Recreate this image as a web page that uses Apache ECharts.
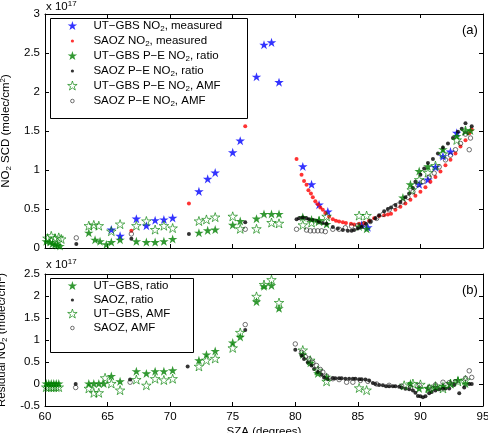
<!DOCTYPE html>
<html>
<head>
<meta charset="utf-8">
<script src="https://cdn.jsdelivr.net/npm/echarts@6/dist/echarts.min.js"></script>
<style>
  html, body { margin: 0; padding: 0; background: #fff; }
  #chart { width: 488px; height: 433px; }
</style>
</head>
<body>
<div id="chart"></div>
<script>
// x = SZA (degrees), y = NO2 in units of 1e17 molec/cm2
const xTicks = [60, 65, 70, 75, 80, 85, 90, 95]

// panel (a)
const utgbsMeas = [[65.3,0.23],[66.0,0.15],[67.3,0.37],[68.1,0.28],[68.8,0.35],[69.5,0.36],[70.2,0.38],[72.3,0.72],[73.0,0.88],[73.6,0.96],[75.0,1.22],[75.6,1.37],[76.9,2.19],[77.5,2.60],[78.1,2.63],[78.7,2.12],[80.6,1.04],[81.3,0.81],[81.9,0.55],[82.6,0.46],[85.3,0.29],[85.8,0.26],[89.9,0.81],[90.6,0.87],[91.2,1.03],[91.8,1.17],[92.4,1.23],[92.9,1.47]]
const saozMeas = [[66.9,0.22],[71.5,0.57],[76.0,1.56],[80.1,1.14],[80.5,0.94],[80.7,0.86],[80.9,0.81],[81.05,0.74],[81.25,0.70],[81.4,0.65],[81.6,0.60],[81.8,0.56],[82.0,0.52],[82.2,0.49],[82.4,0.45],[82.7,0.40],[83.0,0.37],[83.25,0.35],[83.5,0.34],[83.8,0.33],[84.05,0.32],[84.45,0.31],[84.7,0.30],[85.1,0.31],[85.5,0.32],[85.9,0.35],[86.3,0.38],[86.7,0.41],[87.1,0.42],[87.4,0.43],[87.65,0.44],[88.0,0.49],[88.4,0.53],[88.8,0.57],[89.2,0.62],[89.6,0.67],[90.0,0.72],[90.4,0.78],[90.8,0.85],[91.2,0.91],[91.6,0.98],[92.0,1.06],[92.4,1.13],[92.8,1.21],[93.2,1.30],[93.6,1.38],[93.9,1.47],[94.1,1.52]]
const utgbsRatio = [[60.1,0.08],[60.4,0.07],[60.6,0.05],[60.8,0.04],[61.0,0.03],[61.2,0.02],[63.5,0.19],[64.0,0.10],[64.4,0.08],[64.9,0.04],[65.3,0.07],[66.0,0.10],[67.3,0.08],[68.1,0.07],[68.8,0.07],[69.5,0.08],[70.2,0.11],[72.3,0.19],[73.0,0.22],[73.6,0.23],[75.0,0.29],[75.6,0.34],[76.9,0.37],[77.5,0.43],[78.1,0.43],[78.7,0.43],[80.6,0.39],[81.3,0.36],[81.9,0.35],[82.5,0.30],[85.1,0.27],[85.7,0.24],[88.6,0.64],[89.2,0.81],[89.9,0.98],[90.6,1.04],[91.8,1.26],[92.9,1.43],[93.6,1.49],[94.0,1.50]]
const saozRatio = [[62.5,0.05],[66.9,0.12],[71.5,0.18],[76.0,0.33],[80.1,0.37],[80.3,0.38],[80.6,0.39],[80.9,0.38],[81.1,0.37],[81.4,0.36],[81.7,0.35],[81.9,0.33],[82.2,0.32],[82.5,0.31],[83.0,0.27],[83.4,0.25],[83.8,0.23],[84.2,0.22],[84.5,0.22],[84.7,0.23],[85.0,0.25],[85.3,0.27],[85.65,0.31],[86.0,0.34],[86.4,0.38],[86.7,0.42],[87.1,0.47],[87.4,0.50],[87.65,0.52],[88.0,0.55],[88.4,0.59],[88.8,0.65],[89.1,0.70],[89.4,0.77],[89.6,0.85],[90.0,0.94],[90.3,1.02],[90.6,1.09],[91.0,1.14],[91.4,1.21],[91.8,1.29],[92.2,1.34],[92.6,1.41],[93.0,1.49],[93.3,1.53],[93.6,1.60],[94.1,1.56]]
const utgbsAmf = [[60.2,0.12],[60.5,0.15],[60.8,0.12],[61.1,0.13],[61.3,0.11],[63.5,0.28],[63.9,0.29],[64.3,0.28],[65.3,0.21],[66.0,0.30],[67.3,0.28],[68.1,0.34],[68.8,0.23],[69.5,0.28],[70.2,0.25],[72.3,0.34],[72.9,0.36],[73.6,0.39],[75.0,0.40],[75.6,0.24],[76.9,0.24],[78.1,0.32],[78.7,0.31],[80.6,0.29],[81.3,0.32],[81.9,0.34],[82.5,0.40],[85.1,0.41],[85.7,0.41],[89.3,0.74],[89.9,0.87],[90.6,0.96],[91.2,1.05],[91.8,1.20],[92.9,1.38],[93.6,1.50]]
const saozAmf = [[62.5,0.13],[66.9,0.18],[76.0,0.24],[80.1,0.24],[80.9,0.23],[81.2,0.22],[81.5,0.22],[81.8,0.22],[82.1,0.22],[82.4,0.21],[83.0,0.24],[83.5,0.24],[84.0,0.26],[84.5,0.28],[85.0,0.29],[85.5,0.31],[86.0,0.34],[86.5,0.38],[87.0,0.43],[87.5,0.49],[87.9,0.53],[88.2,0.55],[88.6,0.59],[89.0,0.65],[89.4,0.72],[89.8,0.81],[90.2,0.85],[90.7,0.91],[91.1,0.96],[91.5,1.04],[92.0,1.13],[92.4,1.19],[92.8,1.26],[93.2,1.34],[93.6,1.46],[93.9,1.26],[94.0,1.41]]

// panel (b) residuals
const resUtgbsRatio = [[60.1,0],[60.3,0],[60.5,0],[60.7,0],[60.9,0],[61.1,0],[63.5,0],[63.9,0],[64.3,0],[64.7,0],[65.3,0.17],[66.0,0.05],[67.3,0.28],[68.1,0.23],[68.8,0.28],[69.5,0.28],[70.2,0.30],[72.3,0.53],[72.9,0.66],[73.6,0.74],[75.0,0.93],[75.6,1.06],[76.9,1.86],[77.5,2.21],[78.1,2.23],[78.7,1.71],[80.6,0.66],[81.2,0.47],[81.8,0.23],[82.5,0.15],[89.2,0.0],[89.9,-0.11],[90.6,-0.11],[91.2,-0.08],[91.8,-0.05],[92.4,0.0],[93.0,0.08],[93.6,0.0]]
const resSaozRatio = [[62.45,0],[66.8,0.10],[71.4,0.40],[76.0,1.23],[80.0,0.78],[80.5,0.65],[80.7,0.57],[81.0,0.49],[81.3,0.42],[81.5,0.34],[81.8,0.27],[82.1,0.21],[82.3,0.15],[82.6,0.11],[83.0,0.13],[83.2,0.13],[83.5,0.13],[83.7,0.13],[84.0,0.12],[84.3,0.12],[84.6,0.12],[84.8,0.12],[85.1,0.11],[85.3,0.11],[85.6,0.10],[85.9,0.08],[86.2,0.02],[86.4,0.0],[86.7,-0.02],[87.0,-0.03],[87.25,-0.05],[87.5,-0.05],[87.8,-0.05],[88.0,-0.05],[88.3,-0.06],[88.5,-0.08],[88.8,-0.11],[89.1,-0.12],[89.4,-0.15],[89.6,-0.20],[89.8,-0.27],[90.0,-0.28],[90.2,-0.30],[90.4,-0.28],[90.7,-0.21],[90.9,-0.18],[91.2,-0.15],[91.5,-0.12],[91.8,-0.11],[92.0,-0.10],[92.3,-0.10],[92.7,-0.02],[93.1,-0.21],[93.5,-0.08],[93.9,0.0],[94.1,0.0]]
const resUtgbsAmf = [[60.1,-0.08],[60.3,-0.08],[60.5,-0.08],[60.7,-0.08],[60.9,-0.08],[61.1,-0.08],[63.5,-0.11],[63.9,-0.21],[64.3,-0.21],[64.8,0.13],[65.3,0.0],[66.0,-0.15],[67.3,0.09],[68.1,-0.04],[68.8,0.11],[69.5,0.08],[70.2,0.11],[72.3,0.39],[72.9,0.53],[73.6,0.57],[75.0,0.81],[75.6,1.16],[76.9,1.98],[77.5,2.25],[78.1,2.36],[78.7,1.84],[80.6,0.76],[81.2,0.53],[81.8,0.30],[82.5,0.05],[85.1,-0.10],[85.7,-0.15],[88.7,-0.04],[89.4,0.0],[90.0,-0.02],[90.7,-0.11],[91.2,-0.06],[91.8,-0.11],[92.4,0.0],[93.0,0.05],[93.6,0.08]]
const resSaozAmf = [[62.45,-0.08],[66.8,0.04],[76.0,1.35],[80.0,0.91],[80.5,0.72],[80.8,0.62],[81.1,0.57],[81.4,0.49],[81.7,0.42],[82.0,0.33],[82.2,0.27],[82.5,0.18],[83.0,0.12],[83.5,0.10],[84.1,0.04],[84.6,0.04],[85.2,0.08],[85.8,0.06],[86.5,0.0],[87.5,-0.03],[88.5,-0.05],[89.2,-0.08],[89.9,-0.03],[90.7,-0.08],[91.2,-0.02],[91.8,0.04],[92.3,0.03],[92.8,0.05],[93.6,0.13],[93.9,0.30],[94.1,0.15]]

const FONT = 'Liberation Sans'
const GREEN = '#008000'
const star = 'path://M-10,-10M10,10M0,-10L2.245,-3.09L9.51,-3.09L3.633,1.18L5.88,8.09L0,3.82L-5.88,8.09L-3.633,1.18L-9.51,-3.09L-2.245,-3.09Z'
const dotIcon = 'path://M-5,-5M5,5M-1.6,0A1.6,1.6,0,1,1,1.6,0A1.6,1.6,0,1,1,-1.6,0Z'
const ringIcon = 'path://M-5,-5M5,5M-1.8,0A1.8,1.8,0,1,1,1.8,0A1.8,1.8,0,1,1,-1.8,0Z'

// styles for each kind of marker
const filledStar = (color) => ({ symbol: star, symbolSize: 10, itemStyle: { color: color } })
const hollowStar = { symbol: star, symbolSize: 10, itemStyle: { color: 'rgba(0,0,0,0)', borderColor: GREEN, borderWidth: 0.8 } }
const dot = (color) => ({ symbol: 'circle', symbolSize: 4, itemStyle: { color: color } })
const ring = { symbol: 'circle', symbolSize: 4.5, itemStyle: { color: 'rgba(0,0,0,0)', borderColor: '#222', borderWidth: 0.8 } }

function scatter(name, data, panel, style) {
  return Object.assign({
    name: name,
    type: 'scatter',
    xAxisIndex: panel,
    yAxisIndex: panel,
    data: data,
    symbolKeepAspect: true,
    silent: true
  }, JSON.parse(JSON.stringify(style)))
}

const legendText = {
  fontFamily: FONT,
  fontSize: 11.5,
  rich: {
    t: { fontFamily: FONT, fontSize: 11.5, color: '#000', lineHeight: 14 },
    s: { fontFamily: FONT, fontSize: 8, color: '#000', lineHeight: 6, verticalAlign: 'bottom' }
  }
}
const legendFormatter = name => '{t|' + name.replace('NO2', 'NO}{s|2}{t|') + '}'

const nameRich = {
  t: { fontFamily: FONT, fontSize: 11.5, color: '#000', lineHeight: 14 },
  s: { fontFamily: FONT, fontSize: 8, color: '#000', lineHeight: 6, verticalAlign: 'bottom' },
  p: { fontFamily: FONT, fontSize: 8, color: '#000', lineHeight: 6, verticalAlign: 'top' }
}

function xAxis(grid, labels, pos) {
  return {
    type: 'value', gridIndex: grid, min: 60, max: 95, interval: 5, position: pos,
    axisLine: { show: true, onZero: false, lineStyle: { color: '#000', width: 1 } },
    axisTick: { show: true, inside: true, length: 4, lineStyle: { color: '#000' } },
    axisLabel: { show: labels, fontFamily: FONT, fontSize: 11.5, color: '#000', margin: 5 },
    splitLine: { show: false }
  }
}
function yAxis(grid, min, max, labels, pos) {
  return {
    type: 'value', gridIndex: grid, min: min, max: max, interval: 0.5, position: pos,
    axisLine: { show: true, onZero: false, lineStyle: { color: '#000', width: 1 } },
    axisTick: { show: true, inside: true, length: 4, lineStyle: { color: '#000' } },
    axisLabel: { show: labels, fontFamily: FONT, fontSize: 11.5, color: '#000', margin: 5 },
    splitLine: { show: false }
  }
}

const xa0 = xAxis(0, false, 'bottom')
const xa1 = xAxis(1, true, 'bottom')
xa1.name = 'SZA (degrees)'
xa1.nameLocation = 'middle'
xa1.nameGap = 20
xa1.nameTextStyle = { fontFamily: FONT, fontSize: 11.5, color: '#000' }

const ya0 = yAxis(0, 0, 3, true, 'left')
ya0.name = '{t|NO}{s|2}{t| SCD (molec/cm}{p|2}{t|)}'
ya0.nameLocation = 'middle'
ya0.nameGap = 25
ya0.nameRotate = 90
ya0.nameTextStyle = { rich: nameRich }

const ya1 = yAxis(1, -0.5, 2.5, true, 'left')
ya1.name = '{t|Residual NO}{s|2}{t| (molec/cm}{p|2}{t|)}'
ya1.nameLocation = 'middle'
ya1.nameGap = 25
ya1.nameRotate = 90
ya1.nameTextStyle = { rich: nameRich }

const legendBase = {
  left: 67, orient: 'vertical',
  itemWidth: 32, itemHeight: 10, itemGap: 2,
  padding: 0,
  selectedMode: false,
  itemStyle: { borderWidth: 0.8 },
  textStyle: legendText, formatter: legendFormatter
}

const chart = echarts.init(document.getElementById('chart'), null, { renderer: 'canvas' })
chart.setOption({
  animation: false,
  backgroundColor: '#fff',
  grid: [
    { left: 45, right: 5, top: 14, height: 234, outerBoundsMode: 'none', containLabel: false },
    { left: 45, right: 5, top: 274, height: 132, outerBoundsMode: 'none', containLabel: false }
  ],
  xAxis: [xa0, xa1, xAxis(0, false, 'top'), xAxis(1, false, 'top')],
  yAxis: [ya0, ya1, yAxis(0, 0, 3, false, 'right'), yAxis(1, -0.5, 2.5, false, 'right')],
  legend: [
    Object.assign({}, legendBase, {
      top: 20,
      data: [
        { name: 'UT−GBS NO2, measured' },
        { name: 'SAOZ NO2, measured', icon: dotIcon },
        { name: 'UT−GBS P−E NO2, ratio' },
        { name: 'SAOZ P−E NO2, ratio', icon: dotIcon },
        { name: 'UT−GBS P−E NO2, AMF' },
        { name: 'SAOZ P−E NO2, AMF', icon: ringIcon }
      ]
    }),
    Object.assign({}, legendBase, {
      top: 280,
      data: [
        { name: 'UT−GBS, ratio' },
        { name: 'SAOZ, ratio', icon: dotIcon },
        { name: 'UT−GBS, AMF' },
        { name: 'SAOZ, AMF', icon: ringIcon }
      ]
    })
  ],
  graphic: [
    { type: 'rect', left: 50, top: 18, z: 3, shape: { width: 197, height: 100 }, style: { fill: '#fff', stroke: '#000', lineWidth: 1 } },
    { type: 'rect', left: 50, top: 278, z: 3, shape: { width: 143, height: 74 }, style: { fill: '#fff', stroke: '#000', lineWidth: 1 } },
    { type: 'text', left: 46, top: 0, style: { text: '{t|x 10}{p|17}', rich: nameRich } },
    { type: 'text', left: 46, top: 258, style: { text: '{t|x 10}{p|17}', rich: nameRich } },
    { type: 'text', left: 462, top: 24, style: { text: '(a)', fontFamily: FONT, fontSize: 13, fill: '#000' } },
    { type: 'text', left: 462, top: 284, style: { text: '(b)', fontFamily: FONT, fontSize: 13, fill: '#000' } }
  ],
  series: [
    scatter('UT−GBS NO2, measured', utgbsMeas, 0, filledStar('#0000ff')),
    scatter('SAOZ NO2, measured', saozMeas, 0, dot('#ff0000')),
    scatter('UT−GBS P−E NO2, ratio', utgbsRatio, 0, filledStar(GREEN)),
    scatter('SAOZ P−E NO2, ratio', saozRatio, 0, dot('#000')),
    scatter('UT−GBS P−E NO2, AMF', utgbsAmf, 0, hollowStar),
    scatter('SAOZ P−E NO2, AMF', saozAmf, 0, ring),
    scatter('UT−GBS, ratio', resUtgbsRatio, 1, filledStar(GREEN)),
    scatter('SAOZ, ratio', resSaozRatio, 1, dot('#000')),
    scatter('UT−GBS, AMF', resUtgbsAmf, 1, hollowStar),
    scatter('SAOZ, AMF', resSaozAmf, 1, ring)
  ]
})
</script>
</body>
</html>
